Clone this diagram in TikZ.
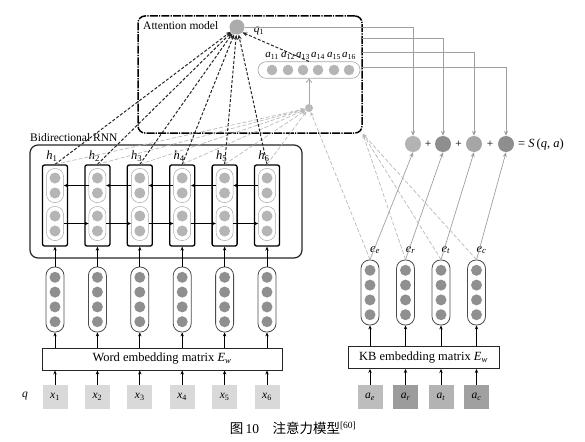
\documentclass[tikz,border=0pt]{standalone}
\usepackage{fontspec}
\setmainfont{Liberation Serif}
\newfontfamily\cjk{Noto Sans CJK SC}
\usetikzlibrary{arrows.meta}
\newcommand\vv[2]{\textit{#1}\textsubscript{#2}}
\definecolor{sqlight}{HTML}{D9D9D9}
\definecolor{embdot}{HTML}{8F8F8F}
\definecolor{hiddot}{HTML}{B5B5B5}
\definecolor{kbe}{HTML}{BDBDBD}
\definecolor{kbr}{HTML}{9C9C9C}
\definecolor{kbt}{HTML}{B3B3B3}
\definecolor{kbc}{HTML}{A0A0A0}
\definecolor{sumlight}{HTML}{B3B3B3}
\definecolor{sumdark}{HTML}{8E8E8E}
\definecolor{summid}{HTML}{A6A6A6}
\begin{document}
\begin{tikzpicture}[x=1pt,y=-1pt,
  font=\fontsize{11.5}{13}\selectfont,
  arr/.style={-{Stealth[length=4pt,width=3.4pt]}, line width=0.8pt, draw=black},
  garr/.style={-{Stealth[length=5pt,width=4pt]}, line width=0.7pt, draw=gray!75},
  bdash/.style={-{Stealth[length=5pt,width=4pt]}, line width=1pt, draw=black!85, dash pattern=on 3pt off 1.8pt},
  gdash/.style={-{Stealth[length=4.5pt,width=3.6pt]}, line width=0.7pt, draw=gray!55, dash pattern=on 4pt off 2pt},
  sq/.style={minimum width=25pt, minimum height=24pt, inner sep=0pt},
  pill/.style={draw=black!70, line width=0.8pt, rounded corners=8.5pt, minimum width=18pt, minimum height=65pt, inner sep=0pt},
  inpill/.style={draw=gray!70, line width=0.5pt, rounded corners=8pt, minimum width=17pt, minimum height=34pt, inner sep=0pt},
  cell/.style={draw=black, line width=1.3pt, rounded corners=2pt, minimum width=25pt, minimum height=81pt, inner sep=0pt},
  matbox/.style={draw=black!85, line width=0.9pt, minimum height=22pt, inner sep=0pt, font=\fontsize{12.5}{14}\selectfont},
  bigbox/.style={draw=black!85, line width=1.2pt, rounded corners=8pt, inner sep=0pt},
  sumdot/.style={circle, minimum size=16pt, inner sep=0pt},
  lab/.style={inner sep=1pt}
]
\useasboundingbox (0,0) rectangle (585,441);

% ---------- question side: inputs, word embeddings, BiRNN ----------
\node[lab] (q) at (25,396) {\textit{q}};
\node[matbox, minimum width=240pt] (wem) at (162,359) {Word embedding matrix \textit{E}\textsubscript{\textit{w}}};
\node[bigbox, minimum width=272pt, minimum height=113pt] (rnn) at (166,201.5) {};
\node[lab, anchor=south west] (rnnl) at (29,143) {Bidirectional RNN};

\foreach \i/\cx in {1/55,2/97.4,3/139.8,4/182.2,5/224.6,6/267}{
  \node[sq, fill=sqlight] (x\i) at (\cx,397) {\vv{x}{\i}};
  \draw[arr] (x\i.north) -- (x\i.north |- wem.south);
  \node[pill] (p\i) at (\cx,299.5) {};
  \foreach \dy in {-22.2,-7.4,7.4,22.2}
    \fill[embdot] (\cx,299.5+\dy) circle (5.5);
  \draw[arr] (p\i.south |- wem.north) -- (p\i.south);
  \node[cell] (h\i) at (\cx,205.5) {};
  \node[inpill] (u\i) at (\cx,185.5) {};
  \node[inpill] (l\i) at (\cx,223.5) {};
  \foreach \yy in {178,193,216,231}
    \fill[hiddot] (\cx,\yy) circle (5.5);
  \draw[arr] (p\i.north) -- (h\i.south);
  \node[lab, font=\fontsize{12.5}{14}\selectfont] (hl\i) at (\cx-3,156) {\vv{h}{\i}};
}
% recurrent connections: backward on top, forward below
\foreach \i/\j in {1/2,2/3,3/4,4/5,5/6}{
  \draw[arr] (u\j.west) -- (u\i.east);
  \draw[arr] (l\i.east) -- (l\j.west);
}

% ---------- answer side: KB embeddings ----------
\node[matbox, minimum width=151pt] (kb) at (423.5,357.5) {KB embedding matrix \textit{E}\textsubscript{\textit{w}}};
\foreach \i/\cx/\col/\s in {1/370/kbe/e,2/405.5/kbr/r,3/441/kbt/t,4/476.5/kbc/c}{
  \node[sq, fill=\col] (ka\i) at (\cx,397) {\textit{a}\textsubscript{\textit{\s}}};
  \draw[arr] (ka\i.north) -- (ka\i.north |- kb.south);
  \node[pill] (ke\i) at (\cx,292.5) {};
  \foreach \dy in {-22.2,-7.4,7.4,22.2}
    \fill[embdot] (\cx,292.5+\dy) circle (5.5);
  \draw[arr] (ke\i.south |- kb.north) -- (ke\i.south);
  \node[lab, font=\fontsize{12.5}{14}\selectfont] (el\i) at (\cx+5,250) {\textit{e}\textsubscript{\textit{\s}}};
}

% ---------- attention model ----------
\node[draw=black, line width=1.5pt, rounded corners=7pt, minimum width=224pt, minimum height=117pt,
      dash pattern=on 8pt off 1.2pt on 1.2pt off 1.2pt] (att) at (250,74.5) {};
\node[lab, anchor=west] (attl) at (142,26) {Attention model};
\node[circle, fill=gray!65, minimum size=15pt, inner sep=0pt] (q1) at (237,27) {};
\node[lab] (q1l) at (259,31) {\vv{q}{1}};
\node[draw=gray!70, line width=0.6pt, rounded corners=8pt, minimum width=102pt, minimum height=16.5pt, inner sep=0pt] (apill) at (309,70) {};
\foreach \i/\cx in {1/272,2/288,3/303,4/318,5/334,6/349}{
  \fill[hiddot] (\cx,70) circle (5.3);
  \node[lab, font=\fontsize{11}{12}\selectfont] (al\i) at (\cx,56) {\vv{a}{1\i}};
}
\node[circle, fill=gray!55, minimum size=8pt, inner sep=0pt] (sc) at (309,108) {};
\draw[-{Straight Barb[length=3.5pt,width=6pt]}, line width=0.8pt, draw=gray!70] (sc.north) -- (apill.south);

% ---------- scoring ----------
\node[sumdot, fill=sumlight] (s1) at (413,144) {};
\node[sumdot, fill=sumdark] (s2) at (443,144) {};
\node[sumdot, fill=summid] (s3) at (474,144) {};
\node[sumdot, fill=sumdark] (s4) at (506,144) {};
\node[lab] (pl1) at (428,144) {+};
\node[lab] (pl2) at (458.5,144) {+};
\node[lab] (pl3) at (490,144) {+};
\node[lab, anchor=west, font=\fontsize{12.5}{14}\selectfont] (res) at (517,144) {= \textit{S}\,(\textit{q}, \textit{a})};

\coordinate (o2) at (362,38);
\coordinate (o3) at (362,52);
\coordinate (o4) at (361,67);
\draw[garr] (q1.east) -| (s1.north);
\draw[garr] (o2) -| (s2.north);
\draw[garr] (o3) -| (s3.north);
\draw[garr] (o4) -| (s4.north);
\foreach \i in {1,2,3,4}
  \draw[garr] (ke\i.north) -- (s\i.south);

% ---------- attention connections ----------
\foreach \i in {1,...,6}
  \draw[gdash] (h\i.north) -- (sc);
\draw[gdash] (ke1.north) -- (sc);
\foreach \i in {2,3,4}
  \draw[gdash] (ke\i.north) -- (att.south east);
\foreach \i in {1,...,6}
  \draw[bdash] (h\i.north) -- (q1);
\draw[bdash] (apill.north) -- (q1.south east);

% ---------- caption ----------
\node[lab, font=\fontsize{13.5}{15}\selectfont] (cap) at (293,428)
  {{\cjk 图}\,10\hspace{1em}{\cjk 注意力模型}\textsuperscript{[60]}};
\end{tikzpicture}
\end{document}
